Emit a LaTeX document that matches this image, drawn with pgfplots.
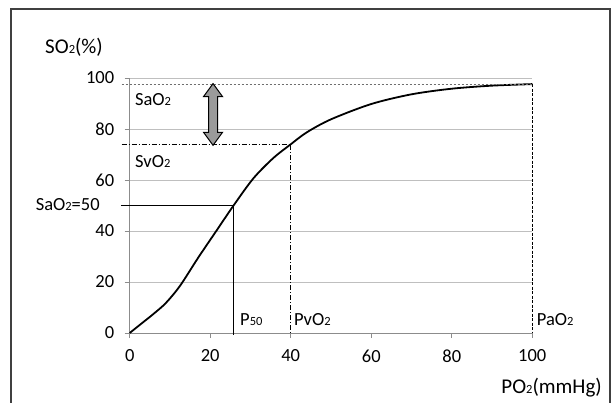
\documentclass[border=0pt]{standalone}
\usepackage{fontspec}
\setmainfont{Carlito}
\usepackage{pgfplots}
\pgfplotsset{compat=1.18}
\definecolor{gridgray}{HTML}{BFBFBF}
\definecolor{axgray}{HTML}{8C8C8C}
\definecolor{framegray}{HTML}{404040}
\definecolor{arrowgray}{HTML}{9A9A9A}
\definecolor{dotgray}{HTML}{6E6E6E}
\newcommand{\sub}[1]{{\fontsize{12.5}{12.5}\selectfont #1}}
\newcommand{\lbl}{\fontsize{18.5}{18.5}\selectfont}
\begin{document}
\begin{tikzpicture}
\useasboundingbox (0pt,0pt) rectangle (611pt,403pt);
\draw[framegray, line width=1.8pt] (11pt,-5pt) -- (11pt,394pt) -- (610pt,394pt) -- (610pt,-5pt);
\node[anchor=west, inner sep=0pt, font=\fontsize{21}{21}\selectfont] at (45pt,356pt) {SO\sub{2}(\%)};
\node[anchor=east, inner sep=0pt, font=\fontsize{21}{21}\selectfont] at (602pt,15pt) {PO\sub{2}(mmHg)};
\begin{axis}[
    at={(129.7pt,70pt)}, anchor=south west,
    scale only axis, width=402.6pt, height=255pt,
    xmin=0, xmax=100, ymin=0, ymax=100,
    axis x line=bottom, axis y line=left,
    axis line style={axgray, -, line width=0.8pt},
    xtick={0,20,...,100}, ytick={0,20,...,100},
    tick style={axgray, line width=0.8pt},
    tick align=outside, major tick length=5pt,
    ymajorgrids, grid style={gridgray, line width=0.8pt},
    ticklabel style={font=\lbl},
    xticklabel style={yshift=-8pt},
    yticklabel style={xshift=-7pt},
    /pgf/number format/assume math mode=true,
    clip=false,
]
% saturation curve
\addplot[black, line width=1.8pt, smooth] coordinates {
    (0,0) (3,3.8) (6,7.6) (9,11.8) (12.5,18.5) (17,29.5) (21.5,40)
    (25.8,50) (30.7,60.6) (35.6,68.5) (40,74) (44,78.7) (50,83.8)
    (60,89.8) (70,93.6) (80,95.8) (90,97) (100,97.6)
};
% P50
\addplot[black, line width=1pt] coordinates {(-2.2,50) (25.8,50) (25.8,-0.8)};
% SvO2 / PvO2
\addplot[black, line width=0.8pt, dash pattern=on 5pt off 2pt on 1pt off 2pt] coordinates {(-2,73.9) (40,73.9) (40,0)};
% SaO2 / PaO2
\addplot[dotgray, line width=1.1pt, dash pattern=on 2.5pt off 1.5pt] coordinates {(-2,97.6) (100,97.6)};
\addplot[black, line width=0.8pt, dash pattern=on 3pt off 1.5pt] coordinates {(100,97.6) (100,0)};
% double arrow
\filldraw[fill=arrowgray, draw=black, line width=1pt, line join=miter]
    (axis cs:20.7,97.8) -- ++(9.5pt,-13pt) -- ++(-5pt,0pt) -- ++(0pt,-35.7pt)
    -- ++(5pt,0pt) -- ++(-9.5pt,-13pt) -- ++(-9.5pt,13pt) -- ++(5pt,0pt)
    -- ++(0pt,35.7pt) -- ++(-5pt,0pt) -- cycle;
% labels
\node[anchor=west, inner sep=0pt, font=\lbl] at (axis cs:1.3,91.4) {SaO\sub{2}};
\node[anchor=west, inner sep=0pt, font=\lbl] at (axis cs:1.3,67.1) {SvO\sub{2}};
\node[anchor=east, inner sep=0pt, font=\lbl] at (axis cs:-7.4,50.3) {SaO\sub{2}=50};
\node[anchor=west, inner sep=0pt, font=\lbl] at (axis cs:27.4,5.4) {P\sub{50}};
\node[anchor=west, inner sep=0pt, font=\lbl] at (axis cs:40.8,5.1) {PvO\sub{2}};
\node[anchor=west, inner sep=0pt, font=\lbl] at (axis cs:101.1,5.1) {PaO\sub{2}};
\end{axis}
\end{tikzpicture}
\end{document}
